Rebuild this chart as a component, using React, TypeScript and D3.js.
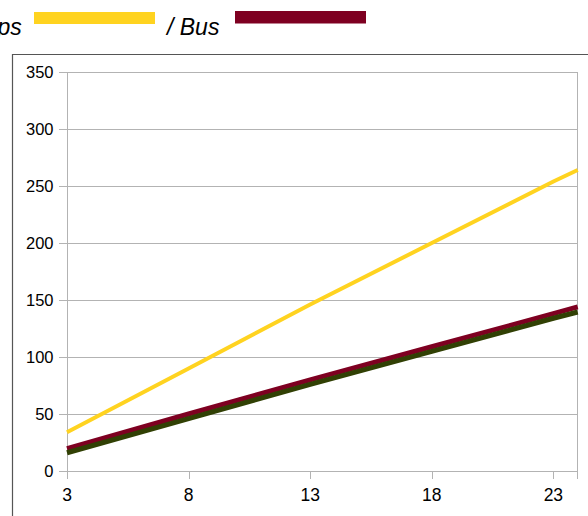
import React from "react";
import * as d3 from "d3";

const hours = [3, 8, 13, 18, 23, 24];
const yellowValues = [34, 90, 146, 200, 254, 264];
const redValues = [19.5, 50, 80, 109, 138, 144];
const greenValues = [16, 46, 76, 105, 134, 139.5];
const xTicks = [3, 8, 13, 18, 23];
const yTicks = [0, 50, 100, 150, 200, 250, 300, 350];
const legendLabels = ["ps", "/ Bus"];

const W = 588;
const H = 516;
const left = 67;
const right = 577.7;
const top = 72;
const bottom = 471;

export default function App() {
  const x = d3.scaleLinear().domain([3, 24]).range([left, right]);
  const y = d3.scaleLinear().domain([0, 350]).range([bottom, top]);
  const line = d3
    .line<number>()
    .x((_, i) => x(hours[i]))
    .y((d) => y(d));
  const grid = "#b3b3b3";
  const font = "Liberation Sans, Arial, sans-serif";
  return (
    <svg
      width={W}
      height={H}
      style={{ position: "absolute", left: 0, top: 0, background: "#fff", fontFamily: font }}
    >
      {/* outer frame */}
      <path d={`M12.5,${H} V54.5 H${W}`} fill="none" stroke="#555" strokeWidth={1.2} />
      {/* legend */}
      <text x={21.7} y={35} fontSize={23} fontStyle="italic" textAnchor="end" fill="#000" fontFamily={font}>
        {legendLabels[0]}
      </text>
      <rect x={34} y={12} width={121} height={12} fill="#FFD320" />
      <text x={167} y={35} fontSize={23} fontStyle="italic" fill="#000" fontFamily={font}>
        {legendLabels[1]}
      </text>
      <rect x={235} y={11} width={131} height={12.5} fill="#7E0021" />
      {/* gridlines */}
      {yTicks.map((t) => (
        <g key={t}>
          <line x1={59} x2={right} y1={Math.round(y(t)) + 0.5} y2={Math.round(y(t)) + 0.5} stroke={grid} strokeWidth={1} />
          <text x={53.5} y={y(t) + 6} fontSize={16.5} textAnchor="end" fill="#000" fontFamily={font}>
            {t}
          </text>
        </g>
      ))}
      <line x1={left + 0.5} x2={left + 0.5} y1={top} y2={bottom + 8} stroke={grid} />
      <line x1={Math.round(right) - 0.5} x2={Math.round(right) - 0.5} y1={top} y2={bottom + 8} stroke={grid} />
      {xTicks.map((t) => (
        <g key={t}>
          <line x1={Math.round(x(t)) + 0.5} x2={Math.round(x(t)) + 0.5} y1={bottom} y2={bottom + 8} stroke={grid} />
          <text x={x(t)} y={501} fontSize={17.5} textAnchor="middle" fill="#000" fontFamily={font}>
            {t}
          </text>
        </g>
      ))}
      {/* series */}
      <path d={line(yellowValues) || ""} fill="none" stroke="#FFD320" strokeWidth={4} />
      <path d={line(redValues) || ""} fill="none" stroke="#7E0021" strokeWidth={5} />
      <path d={line(greenValues) || ""} fill="none" stroke="#314004" strokeWidth={5} />
    </svg>
  );
}
